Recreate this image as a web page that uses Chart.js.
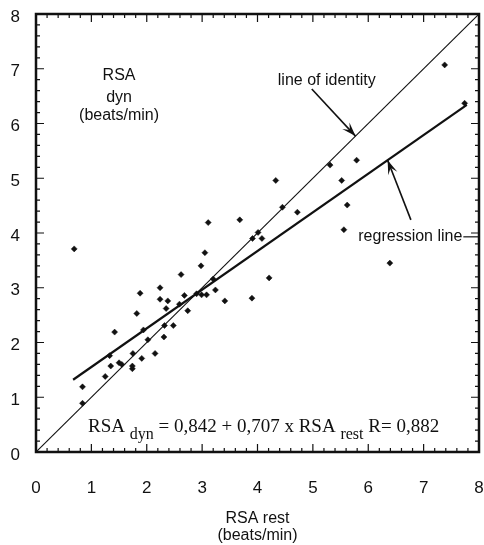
<!DOCTYPE html>
<html><head><meta charset="utf-8">
<script src="https://cdn.jsdelivr.net/npm/chart.js@4/dist/chart.umd.min.js"></script>
<style>html,body{margin:0;padding:0;background:#fff;}#wrap{width:484px;height:545px;}</style>
</head><body><div id="wrap"><canvas id="c" width="484" height="545"></canvas></div>
<script>
// ---- data ----
const rsaRest = [0.69,3.05,2.98,2.62,4.21,3.20,1.88,2.24,2.24,2.38,2.68,2.90,2.99,3.08,3.24,3.41,3.90,2.35,2.59,2.74,1.82,2.32,2.48,2.31,2.02,1.94,1.42,1.33,1.75,2.15,1.91,1.35,1.50,1.55,1.74,1.74,1.25,0.84,0.84,7.74,5.79,5.31,5.52,4.33,4.45,4.72,5.62,5.56,3.11,3.68,4.01,3.91,4.08,7.38,6.39];
const rsaDyn  = [3.71,3.64,3.40,3.24,3.18,3.16,2.90,3.00,2.79,2.76,2.86,2.89,2.87,2.87,2.96,2.76,2.81,2.62,2.70,2.58,2.53,2.31,2.31,2.10,2.05,2.23,2.19,1.76,1.80,1.80,1.71,1.57,1.63,1.60,1.52,1.57,1.38,1.19,0.89,6.37,5.33,5.24,4.96,4.96,4.47,4.38,4.51,4.06,4.19,4.24,4.01,3.90,3.90,7.07,3.45];
const identityX = [0, 8];
const identityY = [0, 8];
const regressionX = [0.67, 7.78];
const regressionY = [1.32, 6.34];
const xTickValues = [0,1,2,3,4,5,6,7,8];
const yTickValues = [0,1,2,3,4,5,6,7,8];
const xTitle = ['RSA rest', '(beats/min)'];
const yTitle = ['RSA', 'dyn', '(beats/min)'];
const identityLabel = 'line of identity';
const regressionLabel = 'regression line';
const eqParts = [['RSA ', 0], ['dyn', 1], [' = 0,842 + 0,707 x RSA ', 0], ['rest', 1], [' R= 0,882', 0]];

const toPts = (xs, ys) => xs.map((x, i) => ({x, y: ys[i]}));
const SANS = '"Liberation Sans", Arial, sans-serif';

const decor = {
  id: 'decor',
  afterDatasetsDraw(chart) {
    const ctx = chart.ctx, xs = chart.scales.x, ys = chart.scales.y;
    const X = v => xs.getPixelForValue(v), Y = v => ys.getPixelForValue(v);
    const L = X(0), R = X(8), T = Y(8), B = Y(0);
    ctx.save();
    ctx.strokeStyle = '#111';
    ctx.lineWidth = 2.5;
    ctx.strokeRect(L, T, R - L, B - T);
    ctx.lineWidth = 1.2;
    ctx.beginPath();
    for (let k = 0; k <= 40; k++) {
      const v = k / 5, major = k % 5 === 0, len = major ? 8 : 4;
      const px = X(v), py = Y(v);
      ctx.moveTo(px, B); ctx.lineTo(px, B - len);
      ctx.moveTo(px, T); ctx.lineTo(px, T + len);
      ctx.moveTo(L, py); ctx.lineTo(L + len, py);
      ctx.moveTo(R, py); ctx.lineTo(R - len, py);
    }
    ctx.stroke();
    ctx.fillStyle = '#111';
    ctx.textAlign = 'center';
    ctx.textBaseline = 'middle';
    ctx.font = '16px ' + SANS;
    const yTitleY = [6.88, 6.47, 6.14];
    yTitle.forEach((t, i) => ctx.fillText(t, X(1.5), Y(yTitleY[i])));
    ctx.fillText(identityLabel, X(5.25), Y(6.79));
    ctx.textAlign = 'left';
    ctx.fillText(regressionLabel, X(5.82), Y(3.93));
    const rw = ctx.measureText(regressionLabel).width;
    ctx.lineWidth = 1.2;
    ctx.beginPath();
    ctx.moveTo(X(5.82) + rw + 1, Y(3.93)); ctx.lineTo(R, Y(3.93));
    ctx.stroke();
    const arrow = (x1, y1, x2, y2) => {
      const ax = X(x1), ay = Y(y1), bx = X(x2), by = Y(y2);
      ctx.lineWidth = 1.6;
      ctx.beginPath(); ctx.moveTo(ax, ay); ctx.lineTo(bx, by); ctx.stroke();
      const a = Math.atan2(by - ay, bx - ax), h = 15, w = 0.33;
      ctx.beginPath();
      ctx.moveTo(bx, by);
      ctx.lineTo(bx - h * Math.cos(a - w), by - h * Math.sin(a - w));
      ctx.lineTo(bx - h * 0.55 * Math.cos(a), by - h * 0.55 * Math.sin(a));
      ctx.lineTo(bx - h * Math.cos(a + w), by - h * Math.sin(a + w));
      ctx.closePath(); ctx.fill();
    };
    arrow(4.98, 6.63, 5.77, 5.77);
    arrow(6.77, 4.24, 6.35, 5.33);
    ctx.textBaseline = 'alphabetic';
    ctx.textAlign = 'left';
    let ex = X(0.94);
    const eb = Y(0.36);
    eqParts.forEach(([t, sub]) => {
      ctx.font = (sub ? '16px' : '19px') + ' "Liberation Serif", "Times New Roman", serif';
      ctx.fillText(t, ex, sub ? eb + 7 : eb);
      ex += ctx.measureText(t).width;
    });
    ctx.restore();
  }
};

new Chart(document.getElementById('c'), {
  type: 'scatter',
  data: {
    datasets: [
      { data: toPts(rsaRest, rsaDyn), pointStyle: 'rectRot', pointRadius: 3, backgroundColor: '#111', borderColor: '#111', borderWidth: 0.5 },
      { type: 'line', data: toPts(identityX, identityY), borderColor: '#111', borderWidth: 1.1, pointRadius: 0, fill: false },
      { type: 'line', data: toPts(regressionX, regressionY), borderColor: '#111', borderWidth: 2.2, pointRadius: 0, fill: false }
    ]
  },
  options: {
    responsive: false, animation: false, devicePixelRatio: 1,
    layout: { padding: { left: 0, right: 5, top: 14, bottom: 0 } },
    plugins: { legend: { display: false }, tooltip: { enabled: false } },
    scales: {
      x: {
        type: 'linear', min: 0, max: 8,
        afterBuildTicks: s => { s.ticks = xTickValues.map(v => ({value: v})); },
        afterFit: s => { s.height = 93; s.paddingLeft = 0; s.paddingRight = 0; },
        grid: { display: false, drawTicks: false },
        border: { display: false },
        ticks: { color: '#111', padding: 26, font: { family: SANS, size: 17 } },
        title: { display: true, text: xTitle, color: '#111', padding: { top: 0, bottom: 1 },
                 font: { family: SANS, size: 16, lineHeight: '17px' } }
      },
      y: {
        type: 'linear', min: 0, max: 8,
        afterBuildTicks: s => { s.ticks = yTickValues.map(v => ({value: v})); },
        afterFit: s => { s.width = 36; s.paddingTop = 0; s.paddingBottom = 0; },
        grid: { display: false, drawTicks: false },
        border: { display: false },
        ticks: { color: '#111', padding: 16, labelOffset: 3, font: { family: SANS, size: 17 } }
      }
    }
  },
  plugins: [decor]
});
</script></body></html>
